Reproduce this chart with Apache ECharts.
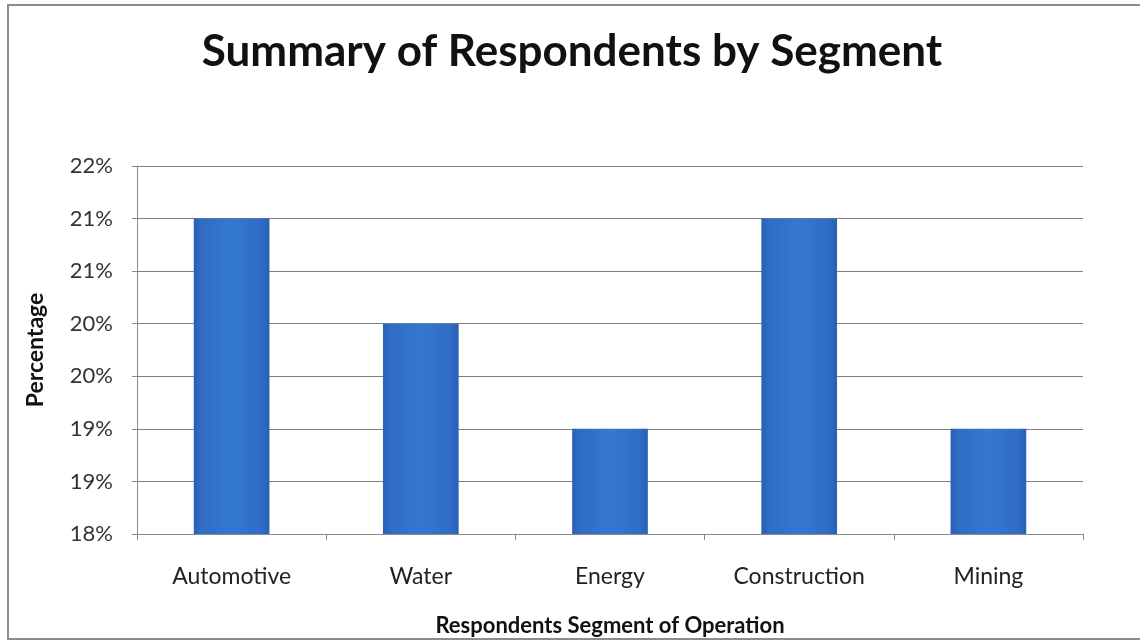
<!DOCTYPE html>
<html>
<head>
<meta charset="utf-8">
<script src="https://cdn.jsdelivr.net/npm/echarts@6/dist/echarts.min.js"></script>
<style>
  html, body { margin: 0; padding: 0; background: #ffffff; }
  #chart { width: 1140px; height: 642px; }
</style>
</head>
<body>
<div id="chart"></div>
<script>
// Share of respondents by segment of operation (percent)
const categories = ['Automotive', 'Water', 'Energy', 'Construction', 'Mining'];
const shares = [21, 20, 19, 21, 19];

// Value axis range and step (percent)
const yMin = 18;
const yMax = 21.5;
const yStep = 0.5;

const chart = echarts.init(document.getElementById('chart'), null, { renderer: 'canvas' });

const barFill = new echarts.graphic.LinearGradient(0, 0, 1, 0, [
  { offset: 0, color: '#2a5fb4' },
  { offset: 0.1, color: '#2f6cc6' },
  { offset: 0.5, color: '#3478d2' },
  { offset: 0.9, color: '#2f6cc6' },
  { offset: 1, color: '#2a5fb4' }
]);

chart.setOption({
  backgroundColor: '#ffffff',
  animation: false,
  title: {
    text: 'Summary of Respondents by Segment',
    left: 567,
    top: 25,
    textAlign: 'center',
    textStyle: {
      fontFamily: 'Lato',
      fontWeight: 'bold',
      fontSize: 44,
      color: '#111111'
    }
  },
  graphic: [{
    type: 'rect',
    shape: { x: 8, y: 5, width: 1150, height: 634 },
    style: { fill: 'none', stroke: '#8c8c8c', lineWidth: 2 },
    silent: true,
    z: -1
  }],
  grid: {
    left: 137,
    right: 57,
    top: 166,
    bottom: 108
  },
  xAxis: {
    type: 'category',
    data: categories,
    name: 'Respondents Segment of Operation',
    nameLocation: 'middle',
    nameGap: 81,
    nameTextStyle: {
      fontFamily: 'Lato',
      fontWeight: 'bold',
      fontSize: 22,
      color: '#111111'
    },
    axisLine: { show: true, lineStyle: { color: '#8a8a8a', width: 1 } },
    axisTick: { show: true, length: 6, alignWithLabel: false, lineStyle: { color: '#8a8a8a' } },
    axisLabel: {
      fontFamily: 'Lato',
      fontSize: 23,
      color: '#222222',
      margin: 31
    }
  },
  yAxis: {
    type: 'value',
    min: yMin,
    max: yMax,
    interval: yStep,
    name: 'Percentage',
    nameLocation: 'middle',
    nameGap: 90,
    nameRotate: 90,
    nameTextStyle: {
      fontFamily: 'Lato',
      fontWeight: 'bold',
      fontSize: 23,
      color: '#111111'
    },
    axisLine: { show: true, lineStyle: { color: '#8a8a8a', width: 1 } },
    axisTick: { show: true, length: 5, lineStyle: { color: '#8a8a8a' } },
    axisLabel: {
      fontFamily: 'Lato',
      fontSize: 22,
      color: '#333333',
      margin: 24,
      formatter: v => Math.round(v) + '%'
    },
    splitLine: { show: true, lineStyle: { color: '#7f7f7f', width: 1 } }
  },
  series: [{
    type: 'bar',
    data: shares,
    barWidth: '40%',
    itemStyle: { color: barFill }
  }]
});
</script>
</body>
</html>
